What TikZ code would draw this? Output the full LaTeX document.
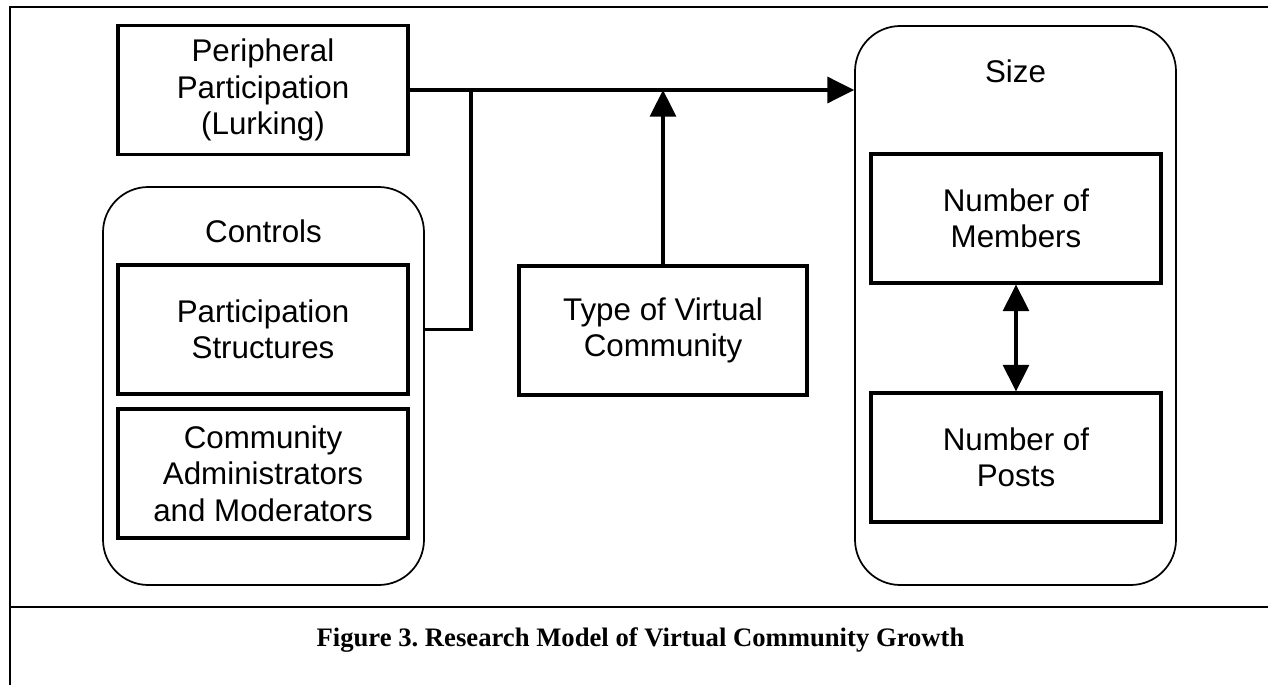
\documentclass[tikz,border=0pt]{standalone}
\usepackage{fontspec}
\setmainfont{Liberation Sans}
\newfontfamily\capfont{Liberation Serif}
\usetikzlibrary{arrows.meta}
\frenchspacing
\begin{document}
\begin{tikzpicture}[x=0.75pt,y=-0.75pt,
  lbl/.style={font=\fontsize{23.5}{27.4}\selectfont, align=center, inner sep=0pt},
  box/.style={lbl, draw, line width=2.3pt, minimum width=217.5pt, minimum height=96.75pt},
  group/.style={draw, line width=1.3pt, rounded corners=34pt},
  conn/.style={line width=2.3pt},
  tip/.style={-{Triangle[length=20pt,width=19.5pt]}},
  frame/.style={line width=1.7pt}]
\useasboundingbox (0,0) rectangle (1268,685);
% frame
\draw[frame] (10,685) -- (10,7) -- (1268,7);
\draw[frame] (10,607) -- (1268,607);
% groups
\node[group, minimum width=240.75pt, minimum height=298.5pt] (ctrl) at (263.5,386) {};
\node[group, minimum width=240.75pt, minimum height=419.25pt] (size) at (1015.5,305.5) {};
\node[lbl] (ctrllbl) at (263.5,231) {Controls};
\node[lbl] (sizelbl) at (1015.5,71) {Size};
% boxes
\node[box] (per) at (263,90) {Peripheral\\Participation\\(Lurking)};
\node[box] (ps) at (263,329.5) {Participation\\Structures};
\node[box] (cam) at (263,473.5) {Community\\Administrators\\and Moderators};
\node[box, minimum width=216pt] (type) at (663,330.5) {Type of Virtual\\Community};
\node[box] (mem) at (1016,218.5) {Number of\\Members};
\node[box] (posts) at (1016,457.5) {Number of\\Posts};
% connectors
\coordinate (j) at (471,90);
\draw[conn, tip] (per.east) -- (per.east -| size.west);
\draw[conn] (ps.center -| ctrl.east) -| (j);
\draw[conn, tip] (type.north) -- (type.north |- per.east);
\draw[conn, {Triangle[length=20pt,width=19.5pt]}-{Triangle[length=20pt,width=19.5pt]}] (mem.south) -- (posts.north);
% caption
\node[font=\capfont\bfseries\fontsize{20}{22}\selectfont, inner sep=0pt] (cap) at (640.5,640) {Figure 3. Research Model of Virtual Community Growth};
\end{tikzpicture}
\end{document}
